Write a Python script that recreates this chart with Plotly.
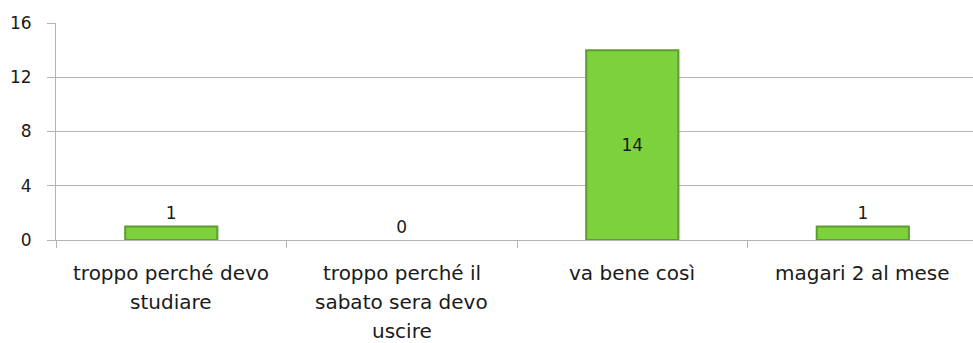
import plotly.graph_objects as go

# Survey answers and counts
categories = [
    "troppo perché devo studiare",
    "troppo perché il sabato sera devo uscire",
    "va bene così",
    "magari 2 al mese",
]
category_lines = [
    ["troppo perché devo", "studiare"],
    ["troppo perché il", "sabato sera devo", "uscire"],
    ["va bene così"],
    ["magari 2 al mese"],
]
counts = [1, 0, 14, 1]
y_ticks = [0, 4, 8, 12, 16]

FONT = "'DejaVu Sans', 'Open Sans', sans-serif"
TEXT_COLOR = "#1a1a1a"
GRID_COLOR = "#b3b3b3"

fig = go.Figure(
    go.Bar(
        x=categories,
        y=counts,
        width=0.4,
        marker=dict(
            color="#7dd13c",
            line=dict(color="#5e9c2f", width=[2 if v > 0 else 0 for v in counts]),
        ),
        text=[str(v) for v in counts],
        textposition=["outside" if v < 3 else "inside" for v in counts],
        insidetextanchor="middle",
        textfont=dict(family=FONT, size=17, color=TEXT_COLOR),
        cliponaxis=False,
    )
)

# Multi-line category labels with generous line spacing
for cat, lines in zip(categories, category_lines):
    for i, line in enumerate(lines):
        fig.add_annotation(
            x=cat, y=0, xref="x", yref="y",
            text=line, showarrow=False,
            yanchor="top", yshift=-19 - i * 29,
            font=dict(family=FONT, size=20, color=TEXT_COLOR),
        )

fig.update_layout(
    width=973, height=343,
    margin=dict(l=56, r=0, t=23, b=103),
    paper_bgcolor="white", plot_bgcolor="white",
    showlegend=False,
    font=dict(family=FONT, size=17, color=TEXT_COLOR),
)

fig.update_xaxes(
    type="category",
    range=[-0.5, 3.478],
    showticklabels=False,
    ticks="outside", tickson="boundaries", ticklen=7,
    tickcolor=GRID_COLOR, tickwidth=1,
    showline=True, linecolor=GRID_COLOR, linewidth=1,
    showgrid=False, zeroline=False,
)

fig.update_yaxes(
    range=[0, 16],
    tickvals=y_ticks,
    ticktext=[str(t) for t in y_ticks],
    ticks="outside", ticklen=8, tickcolor=GRID_COLOR, tickwidth=1,
    ticklabelstandoff=12,
    tickfont=dict(family=FONT, size=17, color=TEXT_COLOR),
    showline=True, linecolor=GRID_COLOR, linewidth=1,
    showgrid=True, gridcolor=GRID_COLOR, gridwidth=1,
    zeroline=False,
)

fig.write_html("out.html")
